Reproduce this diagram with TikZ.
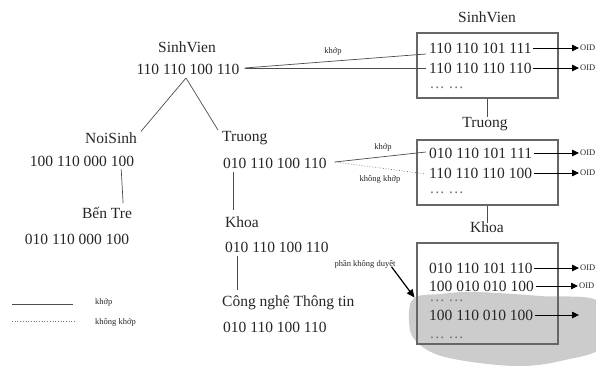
\documentclass[tikz,border=0pt]{standalone}
\usepackage{fontspec}
\setmainfont{LiberationSerif}[Extension=.ttf, UprightFont=*-Regular, BoldFont=*-Bold, ItalicFont=*-Italic, BoldItalicFont=*-BoldItalic]
\usetikzlibrary{arrows.meta}
\newcommand{\dotrow}{.\kern1.2pt.\kern1.2pt.\hspace{5pt}.\kern1.2pt.\kern1.2pt.}
\begin{document}
\begin{tikzpicture}[x=1pt,y=-1pt,
  txt/.style={font=\fontsize{15.5}{18}\selectfont, inner sep=0pt, text=black!85},
  small/.style={font=\fontsize{8.5}{10}\selectfont, inner sep=0pt, text=black!85},
  dots/.style={font=\fontsize{15.5}{18}\selectfont, inner sep=0pt, text=black!55},
  edge/.style={draw=black!70, line width=0.7pt},
  miss/.style={draw=black!55, line width=0.7pt, dotted},
  box/.style={draw=black!60, line width=1.1pt, minimum width=141pt, minimum height=65pt, inner sep=0pt},
  oidarrow/.style={draw=black, line width=0.8pt, -{Triangle[length=7pt,width=6.5pt]}},
  ptr/.style={draw=black, line width=1.2pt, -{Triangle[length=8pt,width=7pt]}},
]
\useasboundingbox (0,0) rectangle (596,366);
\fill[white] (0,0) rectangle (596,366);
% grey region (not scanned)
\fill[black!20] plot[smooth cycle, tension=0.6] coordinates {(414,298) (440,294) (475,292) (540,296) (600,302) (604,345) (565,360) (515,366) (445,357) (415,340) (409,318)};

% ---- left tree ----
\node[txt] (sv) at (187,47) {SinhVien};
\node[txt] (svc) at (188,69) {110 110 100 110};
\coordinate (apex) at (186,78);
\node[txt] (ns) at (111,138) {NoiSinh};
\node[txt] (nsc) at (82,161) {100 110 000 100};
\node[txt] (bt) at (107,213) {Bến Tre};
\node[txt] (btc) at (77,239) {010 110 000 100};
\node[txt, anchor=west] (tr) at (222,138) {Truong};
\node[txt, anchor=west] (trc) at (223,163) {010 110 100 110};
\node[txt, anchor=west] (kh) at (225,222) {Khoa};
\node[txt, anchor=west] (khc) at (225,247) {010 110 100 110};
\node[txt, anchor=west] (cn) at (222,303) {Công nghệ Thông tin};
\node[txt, anchor=west] (cnc) at (223,327) {010 110 100 110};

\draw[edge] (apex) -- ([shift={(4,-1)}]ns.north east);
\draw[edge] (apex) -- ([shift={(-4,-1)}]tr.north west);
\draw[edge] ([shift={(-13,3)}]nsc.south east) -- ([shift={(-9,-4)}]bt.north east);
\draw[edge] ([shift={(10,4)}]trc.south west) -- ([shift={(8,-6)}]kh.north west);
\draw[edge] ([shift={(12,4)}]khc.south west) -- ([shift={(15,-6)}]cn.north west);

% ---- boxes ----
\node[box] (b1) at (487.5,65.5) {};
\node[box] (b2) at (487.5,172.5) {};
\node[box, minimum height=101pt] (b3) at (487.5,293.5) {};
\node[txt] (t1) at (487,17) {SinhVien};
\node[txt] (t2) at (485,124) {Truong};
\node[txt] (t3) at (487,227) {Khoa};
\draw[edge] (b1.south) -- (b1.south |- t2.north);
\draw[edge] (b2.south) -- ([yshift=-2]b2.south |- t3.north);

% rows box 1
\node[txt, anchor=west] (r11) at (429,48) {110 110 101 111};
\node[txt, anchor=west] (r12) at (429,68) {110 110 110 110};
\node[dots, anchor=west] (d1) at (430,88) {\dotrow};
% rows box 2
\node[txt, anchor=west] (r21) at (429,153) {010 110 101 111};
\node[txt, anchor=west] (r22) at (429,173) {110 110 110 100};
\node[dots, anchor=west] (d2) at (430,193) {\dotrow};
% rows box 3
\node[txt, anchor=west] (r31) at (429,268) {010 110 101 110};
\node[txt, anchor=west] (r32) at (429,286) {100 010 010 100};
\node[dots, anchor=west] (d31) at (430,301) {\dotrow};
\node[txt, anchor=west] (r34) at (429,315) {100 110 010 100};
\node[dots, anchor=west] (d32) at (430,338) {\dotrow};

% OID pointers
\node[small, anchor=west] (o11) at (580,48) {OID};
\node[small, anchor=west] (o12) at (580,68) {OID};
\node[small, anchor=west] (o21) at (580,153) {OID};
\node[small, anchor=west] (o22) at (580,173) {OID};
\node[small, anchor=west] (o31) at (580,268) {OID};
\node[small, anchor=west] (o32) at (579,286) {OID};
\coordinate (e34) at (579,315);
\draw[oidarrow] ([xshift=1.5]r11.east) -- ([xshift=-1]o11.west);
\draw[oidarrow] ([xshift=1.5]r12.east) -- ([xshift=-1]o12.west);
\draw[oidarrow] ([xshift=1.5]r21.east) -- ([xshift=-1]o21.west);
\draw[oidarrow] ([xshift=1.5]r22.east) -- ([xshift=-1]o22.west);
\draw[oidarrow] ([xshift=1.5]r31.east) -- ([xshift=-1]o31.west);
\draw[oidarrow] ([xshift=1.5]r32.east) -- ([xshift=-1]o32.west);
\draw[oidarrow] ([xshift=1.5]r34.east) -- (e34);

% matching lines
\draw[edge] ([shift={(5,-1)}]svc.east) -- ([shift={(-3,6)}]r11.west);
\draw[edge] ([shift={(5,-1)}]svc.east) -- ([shift={(-3,0)}]r12.west);
\node[small] (k1) at (333,51) {khớp};

\draw[edge] ([shift={(8,-1)}]trc.east) -- ([shift={(-3,-1)}]r21.west);
\draw[miss] ([shift={(8,-1)}]trc.east) -- ([shift={(-3,1)}]r22.west);
\node[small] (k2) at (383,147) {khớp};
\node[small] (k3) at (380,179) {không khớp};

% not-scanned pointer
\node[small] (pk) at (365,264) {phần không duyệt};
\draw[ptr] ([shift={(-4,3)}]pk.east) -- ([shift={(-2,4)}]b3.west);

% legend
\coordinate (l1a) at (12,304);
\coordinate (l1b) at (73,304);
\coordinate (l2a) at (12,321);
\coordinate (l2b) at (76,321);
\draw[edge] (l1a) -- (l1b);
\draw[miss] (l2a) -- (l2b);
\node[small, anchor=west] (lk) at (95,302) {khớp};
\node[small, anchor=west] (lkk) at (95,322) {không khớp};
\end{tikzpicture}
\end{document}
